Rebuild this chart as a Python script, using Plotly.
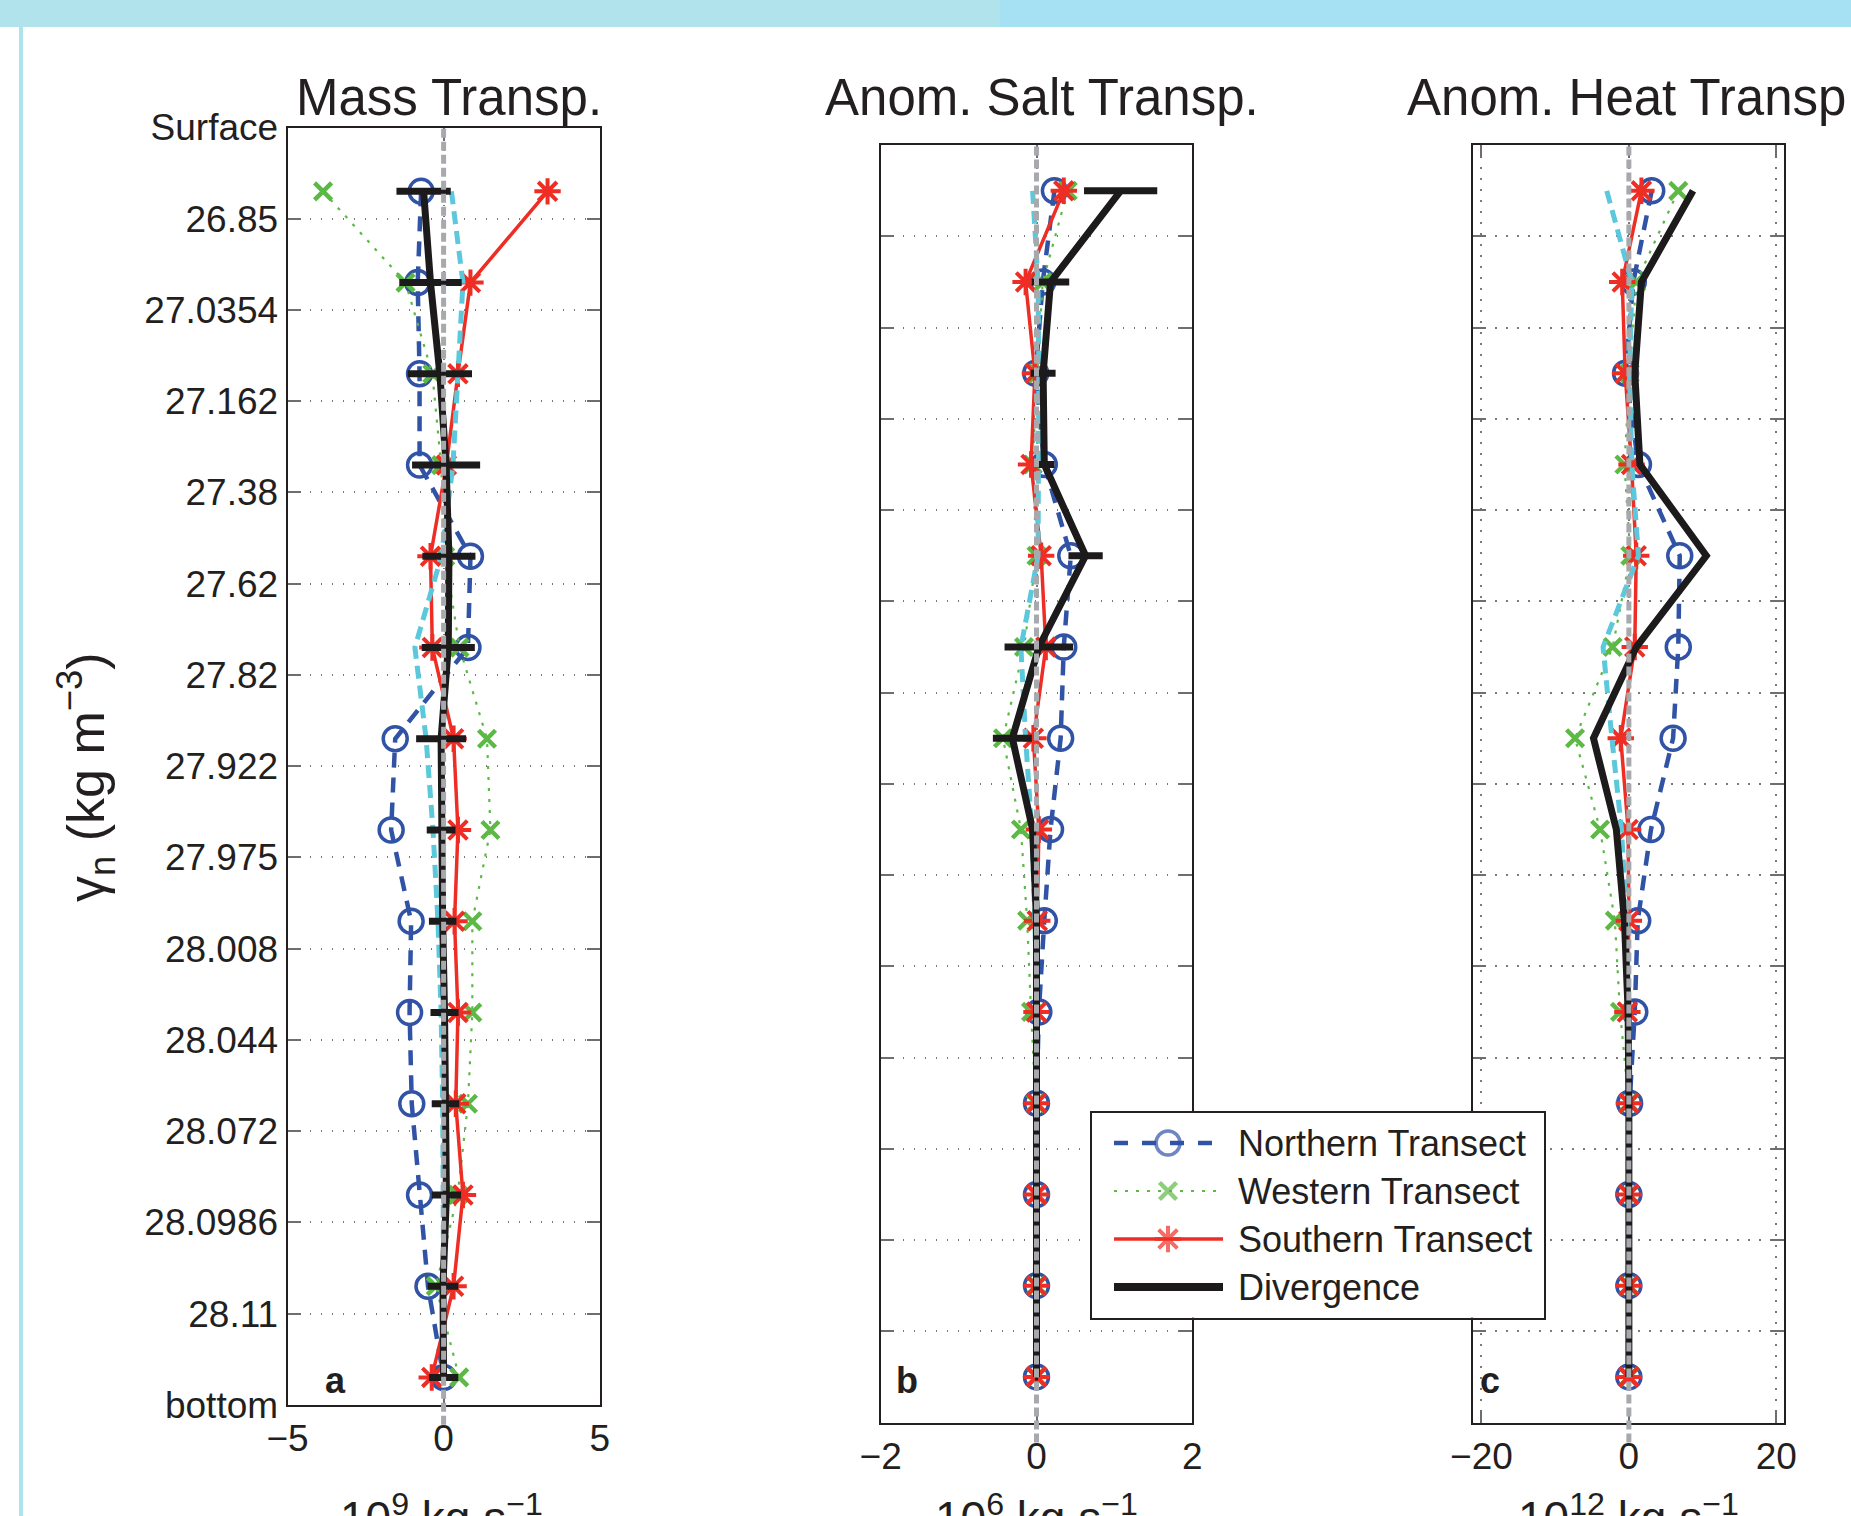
import plotly.graph_objects as go

W, H = 1851, 1516

def fx(px):
    return px / W

def fy(py):
    return 1 - py / H

# ---------------- data ----------------
gamma_ticks = ["Surface", "26.85", "27.0354", "27.162", "27.38", "27.62", "27.82",
               "27.922", "27.975", "28.008", "28.044", "28.072", "28.0986", "28.11", "bottom"]
layer_index = list(range(14))

north_mass = [-0.72, -0.83, -0.77, -0.77, 0.86, 0.78, -1.55, -1.68, -1.04, -1.09, -1.02, -0.77, -0.5, 0.0]
west_mass = [-3.86, -1.22, -0.36, -0.08, 0.05, 0.51, 1.39, 1.5, 0.92, 0.92, 0.78, 0.45, -0.25, 0.5]
south_mass = [3.33, 0.86, 0.46, 0.09, -0.42, -0.36, 0.32, 0.46, 0.35, 0.46, 0.39, 0.62, 0.32, -0.38]
total_mass = [0.25, 0.62, 0.46, 0.3, -0.07, -0.92, -0.56, -0.34, -0.18, -0.08, -0.03, 0.0, 0.0, 0.0]
div_mass = [-0.64, -0.42, -0.12, 0.08, 0.17, 0.15, -0.08, -0.08, -0.03, 0.03, 0.06, 0.09, -0.02, 0.0]
div_mass_err = [0.87, 1.0, 1.03, 1.09, 0.85, 0.85, 0.8, 0.46, 0.44, 0.45, 0.44, 0.47, 0.49, 0.47]

north_salt = [0.23, 0.08, -0.01, 0.1, 0.44, 0.35, 0.31, 0.18, 0.1, 0.03, 0.0, 0.0, 0.0, 0.0]
west_salt = [0.4, 0.08, 0.01, -0.05, 0.0, -0.16, -0.43, -0.2, -0.12, -0.07, -0.01, 0.0, 0.0, 0.0]
south_salt = [0.35, -0.14, -0.02, -0.07, 0.06, 0.12, -0.04, 0.03, 0.01, 0.0, 0.0, 0.0, 0.0, 0.0]
total_salt = [-0.05, 0.02, 0.03, 0.03, 0.02, -0.2, -0.14, -0.06, -0.02, 0.0, 0.0, 0.0, 0.0, 0.0]
div_salt = [1.08, 0.18, 0.085, 0.1, 0.63, 0.03, -0.31, -0.05, 0.0, 0.0, 0.0, 0.0, 0.0, 0.0]
div_salt_err = [0.47, 0.24, 0.16, 0.13, 0.22, 0.44, 0.25, 0.04, 0.03, 0.03, 0.02, 0.02, 0.02, 0.02]

north_heat = [3.1, 0.6, -0.45, 1.3, 6.9, 6.7, 6.0, 3.0, 1.2, 0.8, 0.1, 0.0, 0.0, 0.0]
west_heat = [6.7, 1.0, 0.1, -0.6, 0.2, -2.2, -7.3, -3.9, -1.9, -1.2, 0.0, 0.0, 0.0, 0.0]
south_heat = [1.7, -0.9, -0.5, 0.36, 1.0, 0.8, -1.1, -0.1, 0.0, -0.2, 0.0, 0.0, 0.0, 0.0]
total_heat = [-3.0, 0.4, 0.1, 0.4, 1.3, -3.5, -2.3, -1.0, -0.3, 0.0, 0.0, 0.0, 0.0, 0.0]
div_heat = [8.7, 1.7, 0.8, 1.5, 10.5, 1.0, -4.8, -1.7, -0.6, -0.1, 0.0, 0.0, 0.0, 0.0]

panel_titles = ["Mass Transp.", "Anom. Salt Transp.", "Anom. Heat Transp."]
panel_letters = ["a", "b", "c"]
unit_labels = ["10<sup>9</sup> kg s<sup>−1</sup>", "10<sup>6</sup> kg s<sup>−1</sup>",
               "10<sup>12</sup> kg s<sup>−1</sup>"]
x_ticks = [[-5, 0, 5], [-2, 0, 2], [-20, 0, 20]]
x_ranges = [[-5, 5], [-2, 2], [-21.1, 21.0]]
legend_names = ["Northern Transect", "Western Transect", "Southern Transect", "Divergence"]

# ---------------- style ----------------
BLUE = "#3153a6"
GREEN = "#5cb946"
RED = "#ee2d24"
CYAN = "#5bc8dc"
BLACK = "#1c1a1b"
GRAY = "#a7a9ac"
TXT = "#231f20"
FONT = "Liberation Sans, Arial, sans-serif"

# panel boxes in pixels: (left, right, top, bottom)
boxes = [(287.5, 599.7, 127.5, 1404.8),
         (880.7, 1192.3, 145.2, 1422.5),
         (1473.3, 1783.7, 145.2, 1422.5)]
y_offset = [0.2, 0.0, 0.0]   # panel a axis is shifted relative to the layer positions

fig = go.Figure()

panels = [
    (north_mass, west_mass, south_mass, total_mass, div_mass, div_mass_err),
    (north_salt, west_salt, south_salt, total_salt, div_salt, div_salt_err),
    (north_heat, west_heat, south_heat, total_heat, div_heat, None),
]

for k, (north, west, south, total, div, err) in enumerate(panels):
    xa = "x" if k == 0 else f"x{k+1}"
    ya = "y" if k == 0 else f"y{k+1}"
    ypos = [i + 0.5 for i in layer_index]
    fig.add_trace(go.Scatter(x=north, y=ypos, xaxis=xa, yaxis=ya, mode="lines+markers",
                             line=dict(color=BLUE, width=4.5, dash="15px,10px"),
                             marker=dict(symbol="circle-open", size=24, color=BLUE,
                                         line=dict(width=3.5, color=BLUE)),
                             showlegend=False, name=legend_names[0]))
    fig.add_trace(go.Scatter(x=west, y=ypos, xaxis=xa, yaxis=ya, mode="lines+markers",
                             line=dict(color=GREEN, width=2.2, dash="3px,8px"),
                             marker=dict(symbol="x-thin-open", size=17, color=GREEN,
                                         line=dict(width=4.5, color=GREEN)),
                             showlegend=False, name=legend_names[1]))
    fig.add_trace(go.Scatter(x=south, y=ypos, xaxis=xa, yaxis=ya, mode="lines+markers",
                             line=dict(color=RED, width=3.5),
                             marker=dict(symbol="asterisk-open", size=22, color=RED,
                                         line=dict(width=4, color=RED)),
                             showlegend=False, name=legend_names[2]))
    fig.add_trace(go.Scatter(x=total, y=ypos, xaxis=xa, yaxis=ya, mode="lines",
                             line=dict(color=CYAN, width=5, dash="13px,7px"),
                             showlegend=False, name="Total"))
    dtrace = dict(x=div, y=ypos, xaxis=xa, yaxis=ya, mode="lines",
                  line=dict(color=BLACK, width=7), showlegend=False, name=legend_names[3])
    if err is not None:
        dtrace["error_x"] = dict(type="data", array=err, symmetric=True, color=BLACK,
                                 thickness=7, width=0)
    fig.add_trace(go.Scatter(**dtrace))

    left, right, top, bottom = boxes[k]
    # zero reference line (extends slightly below the axes, as in the original)
    fig.add_shape(type="line", xref=xa, yref="paper", x0=0, x1=0,
                  y0=fy(bottom + 20), y1=fy(top), layer="above",
                  line=dict(color=GRAY, width=5, dash="9px,4px"))

    axis_common = dict(showline=True, linecolor=TXT, linewidth=2, mirror="ticks",
                       ticks="inside", ticklen=13, tickwidth=2, tickcolor="#6d6e71",
                       showgrid=True, gridcolor="#7a7a7a", gridwidth=1.5,
                       griddash="1.5px,9.5px", zeroline=False, automargin=False,
                       tickfont=dict(family=FONT, size=37, color=TXT))
    xdict = dict(axis_common, domain=[fx(left), fx(right)], range=x_ranges[k],
                 tickmode="array", tickvals=x_ticks[k], ticklabelstandoff=0,
                 anchor=ya)
    off = y_offset[k]
    yvals = [j - off for j in range(15)]
    ydict = dict(axis_common, domain=[fy(bottom), fy(top)],
                 range=[14 - off, -off], tickmode="array", tickvals=yvals,
                 anchor=xa)
    if k == 0:
        ydict.update(ticktext=gamma_ticks, showticklabels=True, ticklabelstandoff=0)
    else:
        ydict.update(showticklabels=False)
    fig.update_layout(**{("xaxis" if k == 0 else f"xaxis{k+1}"): xdict,
                         ("yaxis" if k == 0 else f"yaxis{k+1}"): ydict})

    # titles, letters, units
    centers = [448.5, 1042, 1634]
    fig.add_annotation(text=panel_titles[k], xref="paper", yref="paper",
                       x=fx(centers[k]), y=fy(98), xanchor="center", yanchor="middle",
                       showarrow=False, font=dict(family=FONT, size=51, color=TXT))
    letter_x = [335, 907, 1490]
    fig.add_annotation(text=f"<b>{panel_letters[k]}</b>", xref="paper", yref="paper",
                       x=fx(letter_x[k]), y=fy(1380), xanchor="center", yanchor="middle",
                       showarrow=False, font=dict(family=FONT, size=36, color=TXT))
    unit_x = [441, 1036, 1628]
    fig.add_annotation(text=unit_labels[k], xref="paper", yref="paper",
                       x=fx(unit_x[k]), y=fy(1484), xanchor="center", yanchor="top",
                       showarrow=False, font=dict(family=FONT, size=46, color=TXT))

# y-axis title
fig.add_annotation(text="γ<sub>n</sub> (kg m<sup>−3</sup>)", xref="paper", yref="paper",
                   x=fx(86), y=fy(777), xanchor="center", yanchor="middle", textangle=-90,
                   showarrow=False, font=dict(family=FONT, size=52, color=TXT))

# ---------------- legend (drawn in its own small axes) ----------------
LG = (1092, 1544, 1112.5, 1317.5)
lw_px = LG[1] - LG[0]
lh_px = LG[3] - LG[2]
fig.update_layout(
    xaxis4=dict(domain=[fx(LG[0]), fx(LG[1])], range=[0, lw_px], showline=True, mirror=True,
                linecolor=TXT, linewidth=1.5, showgrid=False, zeroline=False, automargin=False,
                showticklabels=False, ticks="", anchor="y4", fixedrange=True),
    yaxis4=dict(domain=[fy(LG[3]), fy(LG[2])], range=[lh_px, 0], showline=True, mirror=True,
                linecolor=TXT, linewidth=1.5, showgrid=False, zeroline=False, automargin=False,
                showticklabels=False, ticks="", anchor="x4", fixedrange=True),
)
fig.add_trace(go.Scatter(x=[0, lw_px, lw_px, 0, 0], y=[0, 0, lh_px, lh_px, 0],
                         xaxis="x4", yaxis="y4", mode="lines", fill="toself",
                         fillcolor="white", line=dict(width=0, color="white"),
                         hoverinfo="skip", showlegend=False))
rows = [30.5, 78.5, 126.5, 174.5]
seg = [22, 76, 131]
leg_styles = [
    dict(line=dict(color=BLUE, width=4.5, dash="14px,14px"),
         marker=dict(symbol="circle-open", size=[0, 24, 0], color=BLUE, line=dict(width=3.5, color=BLUE))),
    dict(line=dict(color=GREEN, width=2.2, dash="3px,8px"),
         marker=dict(symbol="x-thin-open", size=[0, 17, 0], color=GREEN, line=dict(width=4.5, color=GREEN))),
    dict(line=dict(color=RED, width=3.5),
         marker=dict(symbol="asterisk-open", size=[0, 22, 0], color=RED, line=dict(width=4, color=RED))),
    dict(line=dict(color=BLACK, width=8), marker=dict(size=[0, 0, 0], color=BLACK)),
]
for r, name, st in zip(rows, legend_names, leg_styles):
    fig.add_trace(go.Scatter(x=seg, y=[r, r, r], xaxis="x4", yaxis="y4", mode="lines+markers",
                             showlegend=False, hoverinfo="skip", **st))
    fig.add_annotation(text=name, xref="x4", yref="y4", x=144, y=r, xanchor="left",
                       yanchor="middle", showarrow=False,
                       font=dict(family=FONT, size=36, color=TXT))

# ---------------- page decoration ----------------
fig.add_shape(type="rect", xref="paper", yref="paper", x0=0, x1=fx(1000), y0=fy(27), y1=1,
              fillcolor="#b0e3ec", line=dict(width=0), layer="below")
fig.add_shape(type="rect", xref="paper", yref="paper", x0=fx(1000), x1=1, y0=fy(27), y1=1,
              fillcolor="#a6e1f3", line=dict(width=0), layer="below")
fig.add_shape(type="line", xref="paper", yref="paper", x0=fx(21), x1=fx(21), y0=0, y1=fy(27),
              line=dict(color="#aee3ee", width=4), layer="below")

fig.update_layout(width=W, height=H, autosize=False,
                  margin=dict(l=0, r=0, t=0, b=0, pad=0, autoexpand=False),
                  paper_bgcolor="white", plot_bgcolor="white",
                  font=dict(family=FONT, color=TXT), showlegend=False)

fig.write_html("out.html", config={"displayModeBar": False},
               post_script="document.body.style.margin='0px';document.body.style.overflow='hidden';")
